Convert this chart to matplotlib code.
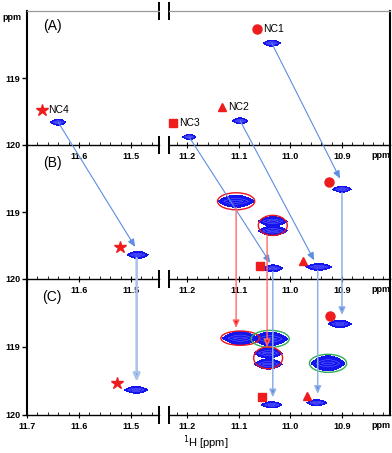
import numpy as np
import matplotlib
matplotlib.use('Agg')
from matplotlib import pyplot as plt
from matplotlib.patches import Ellipse, ConnectionPatch
from matplotlib.ticker import MultipleLocator, FixedLocator, FixedFormatter

plt.rcParams['font.family'] = ['Liberation Sans', 'DejaVu Sans']

'''
    1H-15N HSQC excerpt, three states (A)-(C), broken 1H axis
'''

# peak lists: 1H shift, 15N shift, 1H half width, 15N half width (ppm)
peaks_a_h = [11.640, 11.196, 11.097, 11.036]
peaks_a_n = [119.66, 119.88, 119.64, 118.48]
peaks_a_wh = [0.0145, 0.0126, 0.0145, 0.0165]
peaks_a_wn = [0.045, 0.038, 0.045, 0.045]

peaks_b_h = [11.487, 10.900, 11.105, 11.034, 11.034, 11.034, 10.945]
peaks_b_n = [119.64, 118.66, 118.84, 119.14, 119.28, 119.84, 119.82]
peaks_b_wh = [0.020, 0.018, 0.035, 0.028, 0.028, 0.019, 0.025]
peaks_b_wn = [0.052, 0.045, 0.090, 0.070, 0.070, 0.050, 0.050]

peaks_c_h = [11.490, 10.904, 11.097, 11.039, 11.043, 11.043, 10.927, 11.036, 10.949]
peaks_c_n = [119.63, 118.66, 118.87, 118.88, 119.09, 119.25, 119.24, 119.85, 119.82]
peaks_c_wh = [0.022, 0.022, 0.034, 0.034, 0.027, 0.027, 0.033, 0.020, 0.019]
peaks_c_wn = [0.050, 0.055, 0.095, 0.100, 0.075, 0.075, 0.110, 0.045, 0.045]

# assignment symbols (NC4, NC3, NC2, NC1)
labels = ['NC4', 'NC3', 'NC2', 'NC1']
symbols = ['*', 's', '^', 'o']
sym_a_h = [11.671, 11.227, 11.132, 11.065]
sym_a_n = [119.48, 119.67, 119.43, 118.27]
sym_b_h = [11.521, 11.059, 10.976, 10.925]
sym_b_n = [119.52, 119.81, 119.73, 118.55]
sym_c_h = [11.527, 11.055, 10.968, 10.923]
sym_c_n = [119.53, 119.74, 119.72, 118.54]

# shifts A -> B (start in A, tip in B)
move_ab_from_h = [11.640, 11.196, 11.097, 11.036]
move_ab_from_n = [119.66, 119.88, 119.64, 118.48]
move_ab_to_h = [11.492, 11.039, 10.954, 10.904]
move_ab_to_n = [119.52, 119.76, 119.72, 118.50]

# shifts B -> C (vertical)
move_bc_h = [11.489, 11.034, 10.947, 10.900, 11.105, 11.045]
move_bc_from_n = [119.69, 119.89, 119.87, 118.71, 118.93, 119.35]
move_bc_to_n = [119.51, 119.74, 119.69, 118.53, 118.72, 119.00]
move_bc_kind = ['wide', 'blue', 'blue', 'blue', 'red', 'red']

# highlighted peaks: panel, 1H, 15N, width, height, colour
rings_panel = ['B', 'B', 'C', 'C', 'C', 'C']
rings_h = [11.105, 11.034, 11.097, 11.039, 11.043, 10.927]
rings_n = [118.84, 119.20, 118.87, 118.88, 119.16, 119.24]
rings_w = [0.072, 0.056, 0.075, 0.0735, 0.056, 0.072]
rings_ht = [0.254, 0.30, 0.21, 0.25, 0.32, 0.265]
rings_col = ['red', 'red', 'red', 'green', 'red', 'green']

LEFT_LIM = (11.7, 11.446)
RIGHT_LIM = (11.235, 10.807)
N_LIM = (120.0, 118.0)

PEAK_BLUE = '#1414ee'
ARROW_BLUE = '#5b8fe0'
RED = '#ee1c1c'
RING = {'red': '#e8141e', 'green': '#2fae5a'}

W, H = 392, 453
fig = plt.figure(figsize=(W / 100, H / 100), dpi=100)


def px_axes(x0, x1, ytop, ybot):
    ax = fig.add_axes([x0 / W, 1 - ybot / H, (x1 - x0) / W, (ybot - ytop) / H])
    ax.set_facecolor('none')
    return ax


def draw_peaks(ax, hs, ns, whs, wns, xlim):
    x = np.linspace(xlim[0], xlim[1], 700)
    y = np.linspace(118, 120, 500)
    X, Y = np.meshgrid(x, y)
    Z = np.zeros_like(X)
    for h, n, wh, wn in zip(hs, ns, whs, wns):
        g = ((X - h) / wh) ** 2 + np.abs(Y - n) / wn
        Z = np.maximum(Z, np.exp(-g))
    ax.contourf(X, Y, Z, levels=[np.exp(-1), 1.01], colors=[PEAK_BLUE])
    ax.contour(X, Y, Z, levels=[0.62, 0.85], colors='#7c7cff', linewidths=0.3)


def break_marks(ax, side, top=False):
    ys = [0] + ([1] if top else [])
    for y0 in ys:
        h = 0.065
        ax.plot([side, side], [y0 - h, y0 + h], transform=ax.transAxes, color='black',
                lw=1.4, clip_on=False, solid_capstyle='butt')


def style_pair(axl, axr, show_117, top_gray):
    for ax, lim in ((axl, LEFT_LIM), (axr, RIGHT_LIM)):
        ax.set_xlim(*lim)
        ax.set_ylim(*N_LIM)
        ax.tick_params(axis='x', which='major', direction='inout', length=4, width=0.8,
                       labelsize=6.5, pad=3, top=False)
        ax.tick_params(axis='x', which='minor', direction='in', length=2, width=0.6, top=False)
        ax.xaxis.set_minor_locator(MultipleLocator(0.02))
        ax.spines['bottom'].set_linewidth(1.0)
        if top_gray:
            ax.spines['top'].set_color('#9a9a9a')
            ax.spines['top'].set_linewidth(0.9)
        else:
            ax.spines['top'].set_visible(False)
    axl.xaxis.set_major_locator(FixedLocator([11.7, 11.6, 11.5]))
    axl.xaxis.set_major_formatter(FixedFormatter(['11.7' if show_117 else '', '11.6', '11.5']))
    axr.xaxis.set_major_locator(FixedLocator([11.2, 11.1, 11.0, 10.9]))
    axr.xaxis.set_major_formatter(FixedFormatter(['11.2', '11.1', '11.0', '10.9']))
    for ax in (axl, axr):
        for lab in ax.get_xticklabels():
            lab.set_fontweight('bold')
    axl.spines['right'].set_visible(False)
    axl.spines['left'].set_linewidth(1.5)
    axr.spines['left'].set_visible(False)
    axr.spines['right'].set_linewidth(1.5)
    axl.yaxis.set_major_locator(FixedLocator([119, 120]))
    axl.tick_params(axis='y', direction='out', length=3.5, width=1.0, labelsize=6.5, pad=1.5)
    for lab in axl.get_yticklabels():
        lab.set_fontweight('bold')
    axr.set_yticks([])
    axr.annotate('ppm', xy=(1, 0), xycoords='axes fraction', xytext=(0, -4.2),
                 textcoords='offset points', ha='right', va='top', fontsize=6.5,
                 fontweight='bold')
    break_marks(axl, 1, top=top_gray)
    break_marks(axr, 0, top=top_gray)


def draw_symbols(axl, axr, hs, ns, with_labels):
    for lab, m, h, n in zip(labels, symbols, hs, ns):
        ax = axl if h > LEFT_LIM[1] else axr
        ms = {'*': 9, 's': 5.5, '^': 6, 'o': 6.5}[m]
        ax.plot(h, n, marker=m, ms=ms, color=RED, mec=RED, ls='none', clip_on=False)
        if with_labels:
            ax.annotate(lab, xy=(h, n), xytext=(4.5, 0), textcoords='offset points',
                        ha='left', va='center', fontsize=7.5)


axes = {}
rows = {'A': (11, 145), 'B': (145, 279), 'C': (279, 415)}
peak_sets = {
    'A': (peaks_a_h, peaks_a_n, peaks_a_wh, peaks_a_wn),
    'B': (peaks_b_h, peaks_b_n, peaks_b_wh, peaks_b_wn),
    'C': (peaks_c_h, peaks_c_n, peaks_c_wh, peaks_c_wn),
}
sym_sets = {'A': (sym_a_h, sym_a_n), 'B': (sym_b_h, sym_b_n), 'C': (sym_c_h, sym_c_n)}

for key, (ytop, ybot) in rows.items():
    axl = px_axes(27, 159, ytop, ybot)
    axr = px_axes(169, 390, ytop, ybot)
    axes[key] = (axl, axr)
    for ax, lim in ((axl, LEFT_LIM), (axr, RIGHT_LIM)):
        draw_peaks(ax, *peak_sets[key], lim)
    style_pair(axl, axr, show_117=(key == 'C'), top_gray=(key == 'A'))
    draw_symbols(axl, axr, *sym_sets[key], with_labels=(key == 'A'))
    axl.text(0.19, 0.885 if key == 'A' else 0.868, f'({key})', transform=axl.transAxes,
             ha='center', va='center', fontsize=10)

# highlight rings
for p, h, n, w, ht, c in zip(rings_panel, rings_h, rings_n, rings_w, rings_ht, rings_col):
    ax = axes[p][1]
    ax.add_patch(Ellipse((h, n), w, ht, fill=False, ec=RING[c], lw=1.0, zorder=5))


def side(key, h):
    return axes[key][0] if h > LEFT_LIM[1] else axes[key][1]


# A -> B arrows
for h0, n0, h1, n1 in zip(move_ab_from_h, move_ab_from_n, move_ab_to_h, move_ab_to_n):
    cp = ConnectionPatch(xyA=(h0, n0), xyB=(h1, n1), coordsA='data', coordsB='data',
                         axesA=side('A', h0), axesB=side('B', h1),
                         arrowstyle='-|>,head_length=0.45,head_width=0.2', mutation_scale=10,
                         color=ARROW_BLUE, lw=0.8)
    fig.add_artist(cp)

# B -> C arrows
for h, n0, n1, kind in zip(move_bc_h, move_bc_from_n, move_bc_to_n, move_bc_kind):
    if kind == 'red':
        col, lw, hc = '#ff6a6a', 1.0, '#e82020'
    elif kind == 'wide':
        col, lw, hc = '#a9c2ec', 1.8, ARROW_BLUE
    else:
        col, lw, hc = '#8fb0e8', 1.1, ARROW_BLUE
    cp = ConnectionPatch(xyA=(h, n0), xyB=(h, n1), coordsA='data', coordsB='data',
                         axesA=side('B', h), axesB=side('C', h),
                         arrowstyle='-|>,head_length=0.45,head_width=0.2', mutation_scale=10,
                         color=col, lw=lw)
    cp.set_facecolor(hc)
    fig.add_artist(cp)

fig.text(12 / W, 1 - 18 / H, 'ppm', ha='center', va='center', fontsize=6.5, fontweight='bold')
fig.text(206 / W, 1 - 443 / H, r'$^{1}$H [ppm]', ha='center', va='center', fontsize=8)

fig.savefig('out.png', dpi=100)
